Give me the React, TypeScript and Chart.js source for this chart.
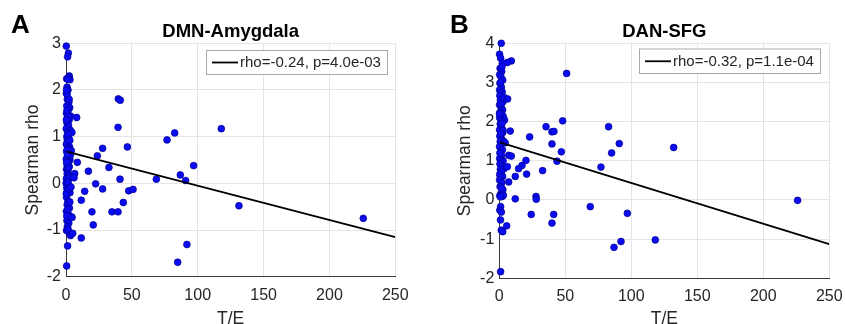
import React, { useEffect, useRef } from "react";
import { Chart, registerables } from "chart.js";

Chart.register(...registerables);

// ---------- DATA ----------
const xTickValues = [0, 50, 100, 150, 200, 250];

// Panel A: DMN-Amygdala
const dmnX = [
  0.2, 1.8, 1.2, 2.5, 0.5, 1.9, 3.0, 0.8, 1.5, 0.3, 1.0, 2.2, 0.6, 2.8, 1.6, 0.4, 3.5, 1.1, 2.4, 0.7,
  1.9, 0.2, 3.2, 1.3, 4.5, 0.6, 2.1, 1.0, 0.3, 2.7, 1.5, 4.0, 0.5, 2.2, 1.2, 0.2, 3.0, 1.7, 0.8, 2.5,
  0.4, 1.4, 0.9, 2.0, 0.3, 1.6, 0.1, 2.3, 0.6, 1.1, 3.0, 0.4, 1.5, 0.9, 2.6, 0.3, 1.8, 4.2, 0.7, 2.1,
  1.0, 0.4, 2.5, 3.4, 1.2, 0.5,
  1.4, 0.9, 2.0, 0.3, 1.7, 2.9, 0.8, 3.3, 1.9, 0.5, 2.8, 1.2, 0.2, 2.0, 1.3, 0.6, 1.6, 2.9, 0.7, 2.4,
  0.4, 1.1, 3.8,
  17.0, 23.8, 27.8, 22.5, 27.8, 14.2, 11.6, 19.7, 20.7, 11.6, 32.6, 39.7, 41.2, 39.5, 46.6, 41.0, 47.6,
  50.9, 43.5, 34.9, 39.5, 68.6, 76.7, 82.5, 86.8, 90.8, 96.9, 91.8, 84.8, 117.9, 131.3, 225.7, 8.6, 6.6,
  6.1, 8.1, 5.1, 4.6,
];
const dmnY = [
  2.94, 2.79, 2.71, 2.3, 2.24, 2.26, 2.22, 2.06, 2.0, 1.93, 1.8, 1.74, 1.66, 1.62, 1.56, 1.5, 1.44, 1.41,
  1.36, 1.3, 1.24, 1.17, 1.14, 1.09, 1.09, 1.0, 0.98, 0.93, 0.84, 0.78, 0.75, 0.7, 0.68, 0.64, 0.57, 0.52,
  0.5, 0.45, 0.4, 0.36, 0.3, 0.26, 0.2, 0.16, 0.1, 0.05, 0.0, -0.05, -0.1, -0.16, -0.2, -0.3, -0.39, -0.46,
  -0.53, -0.6, -0.66, -0.72, -0.8, -0.85, -0.93, -1.01, -1.07, -1.12, -1.34, -1.77,
  2.23, 1.9, 1.45, 1.36, 1.05, 0.92, 0.72, 0.6, 0.33, 0.45, 0.12, 0.02, -0.22, -0.12, -0.56, -0.7, -0.98,
  -0.4, 1.56, 1.8, 2.0, 0.62, -0.08,
  0.26, 0.59, 0.75, -0.01, -0.12, -0.17, -0.36, -0.61, -0.89, -1.17, 0.34, 1.81, 1.78, 1.2, 0.78, 0.09,
  -0.16, -0.13, -0.41, -0.61, -0.61, 0.09, 0.93, 1.08, 0.18, 0.06, 0.38, -1.31, -1.69, 1.17, -0.48, -0.75,
  0.45, 0.21, 0.12, 1.41, -1.07, -0.73,
];
const dmnFitX = [0.5, 250];
const dmnFitY = [0.68, -1.15];
const dmnYTicks = [-2, -1, 0, 1, 2, 3];

// Panel B: DAN-SFG
const danX = [
  1.5, 0.2, 1.0, 2.3, 0.6, 1.8, 0.3, 1.2, 2.6, 0.5, 1.6, 0.2, 2.2, 1.0, 0.4, 1.9, 0.8, 2.8, 0.2, 1.4,
  2.5, 0.6, 1.7, 3.0, 0.3, 1.1, 4.0, 2.2, 0.7, 1.5, 0.2, 2.6, 1.0, 0.4, 1.9, 3.2, 0.7, 1.3, 0.2, 2.4,
  0.9, 1.7, 0.3, 2.9, 1.2, 0.5, 2.1, 3.6, 0.8, 1.6, 0.3, 2.5, 1.0, 0.2, 1.8, 0.6, 2.7, 1.3, 0.4, 2.2,
  3.1, 0.8, 1.0, 0.4, 1.6, 0.9, 1.5, 2.6, 1.0,
  2.0, 0.9, 3.5, 1.4, 2.0, 0.5, 1.9, 2.8, 0.1, 1.2,
  51.0, 48.0, 35.4, 39.9, 41.4, 39.9, 47.0, 43.7, 23.0, 20.2, 17.2, 14.6, 12.1, 20.7, 32.8, 7.1, 12.1,
  27.8, 28.0, 24.2, 41.2, 39.9, 68.9, 77.0, 82.8, 90.9, 85.1, 97.0, 92.2, 86.9, 118.2, 132.1, 226.0,
  9.1, 6.1, 6.3, 8.3, 7.1, 9.1, 6.1, 5.6, 4.5,
];
const danY = [
  4.0, 3.72, 3.62, 3.49, 3.36, 3.28, 3.2, 3.15, 3.06, 2.98, 2.88, 2.81, 2.76, 2.72, 2.66, 2.59, 2.55, 2.51,
  2.43, 2.37, 2.3, 2.24, 2.21, 2.13, 2.1, 2.06, 2.04, 2.0, 1.94, 1.87, 1.79, 1.72, 1.66, 1.63, 1.55, 1.5,
  1.49, 1.43, 1.36, 1.28, 1.21, 1.14, 1.06, 1.0, 0.99, 0.92, 0.85, 0.8, 0.78, 0.71, 0.65, 0.6, 0.58, 0.51,
  0.44, 0.34, 0.26, 0.17, 0.11, 0.09, 0.12, 0.08, -0.17, -0.26, -0.31, -0.51, -0.77, -0.81, -1.83,
  3.4, 3.0, 2.62, 2.45, 1.95, 1.2, 0.3, 1.78, 2.2, 1.7,
  3.23, 2.02, 1.87, 1.74, 1.75, 1.43, 1.23, 0.99, 1.61, 1.01, 0.88, 0.8, 0.6, 0.66, 0.75, 0.46, 0.03,
  0.09, 0.02, -0.37, -0.37, -0.59, -0.17, 0.84, 1.87, 1.44, 1.2, -0.34, -1.06, -1.21, -1.02, 1.34, -0.01,
  3.55, 3.51, 2.58, 1.76, 1.14, 1.12, 0.85, -0.66, 1.46,
];
const danFitX = [0.5, 250];
const danFitY = [1.47, -1.13];
const danYTicks = [-2, -1, 0, 1, 2, 3, 4];

const xAxisLabel = "T/E";
const yAxisLabel = "Spearman rho";

// ---------- STYLE ----------
const FONT = '"Liberation Sans", Arial, Helvetica, sans-serif';
const TEXT = "#262626";
const GRID = "#e4e4e4";
const AXIS = "#3a3a3a";

type PanelProps = {
  left: number;
  width: number;
  area: { left: number; right: number; top: number; bottom: number };
  xs: number[];
  ys: number[];
  fitX: number[];
  fitY: number[];
  yTicks: number[];
  title: string;
  letter: string;
  letterX: number;
  legendText: string;
  legendBox: { x: number; y: number; w: number; h: number };
  yTitlePad: number;
};

function Panel(p: PanelProps) {
  const ref = useRef<HTMLCanvasElement | null>(null);
  useEffect(() => {
    if (!ref.current) return;
    const H = 324;
    const overlay = {
      id: "overlay",
      afterDraw(chart: any) {
        const ctx = chart.ctx;
        const ca = chart.chartArea;
        ctx.save();
        // title
        ctx.fillStyle = "#000";
        ctx.font = `bold 18.5px ${FONT}`;
        ctx.textAlign = "center";
        ctx.textBaseline = "alphabetic";
        ctx.fillText(p.title, (ca.left + ca.right) / 2, 36.5);
        // panel letter
        ctx.font = `bold 26px ${FONT}`;
        ctx.textAlign = "left";
        ctx.fillText(p.letter, p.letterX, 32.5);
        // legend box
        const b = p.legendBox;
        ctx.fillStyle = "#fff";
        ctx.fillRect(b.x, b.y, b.w, b.h);
        ctx.strokeStyle = "#a8a8a8";
        ctx.lineWidth = 1;
        ctx.strokeRect(b.x + 0.5, b.y + 0.5, b.w, b.h);
        const cy = b.y + b.h / 2 + 0.5;
        ctx.strokeStyle = "#000";
        ctx.lineWidth = 1.8;
        ctx.beginPath();
        ctx.moveTo(b.x + 6, cy);
        ctx.lineTo(b.x + 32, cy);
        ctx.stroke();
        ctx.fillStyle = TEXT;
        ctx.font = `15px ${FONT}`;
        ctx.textBaseline = "middle";
        ctx.fillText(p.legendText, b.x + 34, cy + 0.5);
        ctx.restore();
      },
    };

    const scatterData = p.xs.map((x, i) => ({ x, y: p.ys[i] }));
    const fitData = p.fitX.map((x, i) => ({ x, y: p.fitY[i] }));

    const chart = new Chart(ref.current, {
      type: "scatter",
      data: {
        datasets: [
          {
            type: "line",
            data: fitData,
            borderColor: "#000",
            borderWidth: 1.8,
            pointRadius: 0,
            fill: false,
            order: 0,
          } as any,
          {
            type: "scatter",
            data: scatterData,
            backgroundColor: "#0b0bf2",
            borderColor: "#000090",
            borderWidth: 0.7,
            pointRadius: 3.4,
            order: 1,
            clip: false,
          } as any,
        ],
      },
      options: {
        responsive: false,
        animation: false,
        events: [],
        layout: {
          padding: { left: 0, top: p.area.top, right: p.width - p.area.right, bottom: 0 },
        },
        plugins: {
          legend: { display: false },
          tooltip: { enabled: false },
          title: { display: false },
        },
        scales: {
          x: {
            type: "linear",
            min: 0,
            max: 250,
            afterBuildTicks: (s: any) => {
              s.ticks = xTickValues.map((v) => ({ value: v }));
            },
            afterFit: (s: any) => {
              s.height = H - p.area.bottom;
            },
            ticks: {
              color: TEXT,
              font: { family: FONT, size: 16 },
              padding: 9,
              maxRotation: 0,
            },
            grid: { color: GRID, lineWidth: 1, drawTicks: false },
            border: { color: AXIS, width: 1 },
            title: {
              display: true,
              text: xAxisLabel,
              color: TEXT,
              font: { family: FONT, size: 17.5, lineHeight: 1 },
              padding: { top: 0, bottom: -4 },
            },
          },
          y: {
            type: "linear",
            min: p.yTicks[0],
            max: p.yTicks[p.yTicks.length - 1],
            afterBuildTicks: (s: any) => {
              s.ticks = p.yTicks.map((v) => ({ value: v }));
            },
            afterFit: (s: any) => {
              s.width = p.area.left;
            },
            ticks: {
              color: TEXT,
              font: { family: FONT, size: 16 },
              padding: 5,
            },
            grid: { color: GRID, lineWidth: 1, drawTicks: false },
            border: { color: AXIS, width: 1 },
            title: {
              display: true,
              text: yAxisLabel,
              color: TEXT,
              font: { family: FONT, size: 17.5, lineHeight: 1 },
              padding: { top: p.yTitlePad, bottom: 0 },
            },
          },
        },
      } as any,
      plugins: [overlay],
    });
    return () => chart.destroy();
  }, []);
  return (
    <div style={{ position: "absolute", left: p.left, top: 0, width: p.width, height: 324 }}>
      <canvas ref={ref} width={p.width} height={324} style={{ display: "block" }} />
    </div>
  );
}

export default function App() {
  return (
    <div
      style={{
        position: "fixed",
        left: 0,
        top: 0,
        width: 845,
        height: 324,
        background: "#fff",
        overflow: "hidden",
      }}
    >
      <Panel
        left={0}
        width={420}
        area={{ left: 66, right: 395.3, top: 43.3, bottom: 276.7 }}
        xs={dmnX}
        ys={dmnY}
        fitX={dmnFitX}
        fitY={dmnFitY}
        yTicks={dmnYTicks}
        title="DMN-Amygdala"
        letter="A"
        letterX={11}
        legendText="rho=-0.24, p=4.0e-03"
        legendBox={{ x: 206, y: 50, w: 181, h: 24 }}
        yTitlePad={24}
      />
      <Panel
        left={420}
        width={445}
        area={{ left: 79.3, right: 409.3, top: 43.3, bottom: 278.3 }}
        xs={danX}
        ys={danY}
        fitX={danFitX}
        fitY={danFitY}
        yTicks={danYTicks}
        title="DAN-SFG"
        letter="B"
        letterX={30}
        legendText="rho=-0.32, p=1.1e-04"
        legendBox={{ x: 219, y: 48.5, w: 181, h: 24.5 }}
        yTitlePad={36}
      />
    </div>
  );
}
